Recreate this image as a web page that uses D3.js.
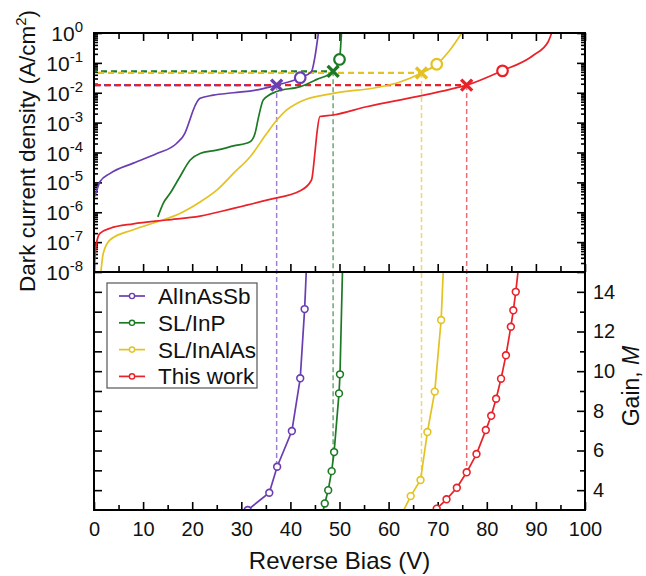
<!DOCTYPE html>
<html>
<head>
<meta charset="utf-8">
<script src="https://cdn.jsdelivr.net/npm/d3@7"></script>
<style>
    body { margin: 0; background: #fff; }
    svg { font-family: Arial, "Liberation Sans", sans-serif; }
</style>
</head>
<body>
<svg id="chart" width="646" height="576"></svg>
<script>
/**
 * Data.
 */
const seriesNames = ['AlInAsSb', 'SL/InP', 'SL/InAlAs', 'This work'];

// Dark current density [reverse bias V, J in A/cm2]
const darkAlInAsSb = [
    [0, 3e-6], [0.5, 5e-6], [1.2, 1.05e-5], [3.3, 2e-5], [8.0, 4.4e-5], [12.8, 9.3e-5],
    [16.8, 2e-4], [18.5, 4.4e-4], [19.5, 1.2e-3], [20.2, 2.6e-3], [21.6, 6.5e-3], [24.3, 8.3e-3],
    [28.4, 1.0e-2], [33.8, 1.3e-2], [37.2, 1.8e-2], [42.0, 3.2e-2], [44.3, 5.1e-2], [45.0, 0.16], [45.7, 1.0]
];
const darkSlInP = [
    [13.0, 7e-7], [14.1, 2e-6], [15.5, 4.3e-6], [17.5, 1.55e-5], [19.6, 5.6e-5], [21.6, 9.3e-5],
    [25.0, 1.2e-4], [28.4, 1.66e-4], [31.8, 2.3e-4], [32.8, 4.4e-4], [33.5, 1.5e-3], [34.5, 5.8e-3],
    [37.2, 1.1e-2], [42.0, 1.6e-2], [45.4, 2.8e-2], [48.7, 5.2e-2], [50.0, 0.13], [50.4, 1.0]
];
const darkSlInAlAs = [
    [1.4, 1e-8], [1.9, 4.3e-8], [3.3, 1.2e-7], [8.0, 2.6e-7], [13.4, 5.1e-7], [17.5, 9.1e-7],
    [21.6, 2.2e-6], [25.0, 5.5e-6], [28.4, 2e-5], [31.8, 7.2e-5], [35.2, 4.4e-4], [37.2, 1.2e-3],
    [39.2, 2.6e-3], [42.0, 5e-3], [48.7, 9.5e-3], [57.6, 1.5e-2], [62.3, 2.3e-2], [66.7, 4.6e-2],
    [69.8, 9e-2], [72.5, 0.27], [74.9, 1.0]
];
const darkThisWork = [
    [0, 1e-8], [0.3, 5e-8], [0.5, 9e-8], [1.2, 1.95e-7], [3.3, 2.9e-7], [8.0, 4.1e-7], [14.8, 5.5e-7],
    [21.6, 7.4e-7], [28.4, 1.35e-6], [35.4, 2.6e-6], [42.0, 5.2e-6], [44.3, 1.2e-5], [45.0, 1e-4],
    [45.4, 4.4e-4], [46.0, 1.6e-3], [48.7, 1.8e-3], [55.5, 3.4e-3], [65.7, 7.4e-3], [72.5, 1.3e-2],
    [75.9, 1.8e-2], [82.7, 5.1e-2], [89.5, 0.18], [92.5, 0.51], [93.2, 1.0]
];

// Gain [reverse bias V, M]
const gainAlInAsSb = [[31.3, 3.0], [35.7, 3.87], [37.3, 5.18], [40.3, 6.98], [42.0, 9.64], [42.9, 13.13], [43.4, 16]];
const gainSlInP = [[46.4, 2.7], [47.0, 3.33], [47.7, 4.0], [48.4, 4.96], [48.9, 5.92], [49.9, 8.88], [50.1, 9.84], [50.7, 16]];
const gainSlInAlAs = [[62.5, 2.7], [64.5, 3.7], [66.5, 4.51], [67.9, 6.93], [69.4, 8.97], [70.7, 12.58], [71.3, 16]];
const gainThisWork = [
    [68.8, 2.8], [69.8, 3.07], [71.8, 3.54], [73.9, 4.12], [75.9, 4.9], [77.9, 5.82], [79.8, 7.03],
    [80.9, 7.75], [81.9, 8.61], [82.9, 9.62], [83.9, 10.8], [84.9, 12.24], [85.4, 13.07], [85.9, 14.0], [86.8, 16]
];

// Marked points: [V, J, M at that V]
const crossPoints = [[37.2, 1.8e-2, 5.18], [48.7, 5.2e-2, 5.5], [66.7, 4.6e-2, 4.51], [75.9, 1.8e-2, 4.9]];
const circlePoints = [[42.0, 3.2e-2], [50.0, 0.13], [69.8, 9e-2], [83.2, 5.4e-2]];

// Ticks
const biasTicks = d3.range(0, 101, 10);
const biasMinorTicks = d3.range(5, 100, 10);
const decadeExponents = d3.range(-8, 1);
const gainTicks = [4, 6, 8, 10, 12, 14];
const gainMinorTicks = [5, 7, 9, 11, 13];

/**
 * Visual configs.
 */
const colors = ['#6a3db3', '#1c7a25', '#e3c221', '#ea2129'];
const plot = { left: 94, right: 585, top: 33, mid: 272, bottom: 510 };

const svg = d3.select('#chart');

/**
 * D3 scales.
 */
const xScale = d3.scaleLinear().domain([0, 100]).range([plot.left, plot.right]),
    yDark = d3.scaleLog().domain([1e-8, 1]).range([plot.mid, plot.top]),
    yGain = d3.scaleLinear().domain([3, 15]).range([plot.bottom, plot.mid]);

const darkData = [darkAlInAsSb, darkSlInP, darkSlInAlAs, darkThisWork];
const gainData = [gainAlInAsSb, gainSlInP, gainSlInAlAs, gainThisWork];

/**
 * Clip regions for the two panels.
 */
const defs = svg.append('defs');
defs.append('clipPath').attr('id', 'clip-top').append('rect')
    .attr('x', plot.left).attr('y', plot.top)
    .attr('width', plot.right - plot.left).attr('height', plot.mid - plot.top);
defs.append('clipPath').attr('id', 'clip-bottom').append('rect')
    .attr('x', plot.left).attr('y', plot.mid)
    .attr('width', plot.right - plot.left).attr('height', plot.bottom - plot.mid);

/**
 * Axis helper: draws ticks without domain line.
 */
function drawAxis(axis, tx, ty) {
    const g = svg.append('g')
        .attr('transform', 'translate(' + tx + ',' + ty + ')')
        .call(axis);
    g.select('.domain').remove();
    g.selectAll('line').attr('stroke', '#000').attr('stroke-width', 1.6);
    g.selectAll('text').attr('font-size', 20).attr('fill', '#111')
        .attr('font-family', 'Arial, "Liberation Sans", sans-serif');
    return g;
}

// Log minor ticks
const logMinor = [];
decadeExponents.slice(0, -1).forEach(e => {
    for (let k = 2; k <= 9; k++) logMinor.push(k * Math.pow(10, e));
});
const decades = decadeExponents.map(e => Math.pow(10, e));

// Top panel: top edge, bottom edge
drawAxis(d3.axisBottom(xScale).tickValues(biasTicks).tickSize(8).tickFormat(''), 0, plot.top);
drawAxis(d3.axisBottom(xScale).tickValues(biasMinorTicks).tickSize(6).tickFormat(''), 0, plot.top);
drawAxis(d3.axisTop(xScale).tickValues(biasTicks).tickSize(8).tickFormat(''), 0, plot.mid);
drawAxis(d3.axisTop(xScale).tickValues(biasMinorTicks).tickSize(6).tickFormat(''), 0, plot.mid);

// Top panel: left & right log ticks
drawAxis(d3.axisRight(yDark).tickValues(decades).tickSize(8).tickFormat(''), plot.left, 0);
drawAxis(d3.axisRight(yDark).tickValues(logMinor).tickSize(4).tickFormat(''), plot.left, 0);
drawAxis(d3.axisLeft(yDark).tickValues(decades).tickSize(8).tickFormat(''), plot.right, 0);
drawAxis(d3.axisLeft(yDark).tickValues(logMinor).tickSize(4).tickFormat(''), plot.right, 0);

// Decade labels with superscripts
const decadeLabels = svg.append('g').attr('font-size', 21).attr('text-anchor', 'end').attr('fill', '#111');
decadeExponents.forEach(e => {
    const t = decadeLabels.append('text')
        .attr('x', 83)
        .attr('y', yDark(Math.pow(10, e)) + 8);
    t.append('tspan').text('10');
    t.append('tspan').attr('font-size', 15).attr('dy', -9).text(e === 0 ? '0' : String(e));
});

// Bottom panel: bias axis with labels
drawAxis(d3.axisBottom(xScale).tickValues(biasTicks).tickSize(-8).tickPadding(12), 0, plot.bottom);
drawAxis(d3.axisBottom(xScale).tickValues(biasMinorTicks).tickSize(-5).tickFormat(''), 0, plot.bottom);

// Bottom panel: left ticks, right gain axis
drawAxis(d3.axisRight(yGain).tickValues(d3.range(4, 15)).tickSize(8).tickFormat(''), plot.left, 0);
drawAxis(d3.axisRight(yGain).tickValues(gainTicks).tickSize(-8).tickPadding(8), plot.right, 0);
drawAxis(d3.axisRight(yGain).tickValues(gainMinorTicks).tickSize(-5).tickFormat(''), plot.right, 0);

/**
 * Dashed guide lines.
 */
const guides = svg.append('g').attr('fill', 'none');
crossPoints.forEach((p, i) => {
    // Horizontal: from left axis to the marked point
    guides.append('line')
        .attr('x1', xScale(0)).attr('x2', xScale(p[0]))
        .attr('y1', yDark(p[1])).attr('y2', yDark(p[1]))
        .attr('stroke', colors[i]).attr('stroke-width', 2.2)
        .attr('stroke-dasharray', '6,4')
        .attr('stroke-dashoffset', i * 3);
    // Vertical: down to the gain curve
    guides.append('line')
        .attr('x1', xScale(p[0])).attr('x2', xScale(p[0]))
        .attr('y1', yDark(p[1])).attr('y2', yGain(p[2]))
        .attr('stroke', colors[i]).attr('stroke-width', 1.5)
        .attr('stroke-opacity', 0.65)
        .attr('stroke-dasharray', '5,3');
});

/**
 * Dark current curves.
 */
const darkLine = d3.line().x(d => xScale(d[0])).y(d => yDark(d[1])).curve(d3.curveMonotoneX);
const darkGroup = svg.append('g').attr('clip-path', 'url(#clip-top)');
darkData.forEach((d, i) => {
    darkGroup.append('path')
        .datum(d)
        .attr('d', darkLine)
        .attr('fill', 'none')
        .attr('stroke', colors[i])
        .attr('stroke-width', 1.7);
});

// Cross markers
const crossGroup = svg.append('g');
crossPoints.forEach((p, i) => {
    const cx = xScale(p[0]), cy = yDark(p[1]), s = 5.5;
    crossGroup.append('path')
        .attr('d', 'M' + (cx - s) + ',' + (cy - s) + 'L' + (cx + s) + ',' + (cy + s) +
            'M' + (cx - s) + ',' + (cy + s) + 'L' + (cx + s) + ',' + (cy - s))
        .attr('stroke', colors[i]).attr('stroke-width', 3.4);
});

// Open circle markers
svg.append('g').selectAll('circle').data(circlePoints).enter().append('circle')
    .attr('cx', d => xScale(d[0]))
    .attr('cy', d => yDark(d[1]))
    .attr('r', 5.3)
    .attr('fill', '#fff')
    .attr('stroke', (d, i) => colors[i])
    .attr('stroke-width', 2.2);

/**
 * Gain curves.
 */
const gainLine = d3.line().x(d => xScale(d[0])).y(d => yGain(d[1]));
const gainGroup = svg.append('g').attr('clip-path', 'url(#clip-bottom)');
gainData.forEach((d, i) => {
    gainGroup.append('path')
        .datum(d)
        .attr('d', gainLine)
        .attr('fill', 'none')
        .attr('stroke', colors[i])
        .attr('stroke-width', 1.7);
    gainGroup.selectAll('circle.g' + i).data(d).enter().append('circle')
        .attr('class', 'g' + i)
        .attr('cx', p => xScale(p[0]))
        .attr('cy', p => yGain(p[1]))
        .attr('r', 3.4)
        .attr('fill', '#fff')
        .attr('stroke', colors[i])
        .attr('stroke-width', 1.6);
});

/**
 * Frames.
 */
svg.append('rect')
    .attr('x', plot.left).attr('y', plot.top)
    .attr('width', plot.right - plot.left).attr('height', plot.mid - plot.top)
    .attr('fill', 'none').attr('stroke', '#000').attr('stroke-width', 2);
svg.append('rect')
    .attr('x', plot.left).attr('y', plot.mid)
    .attr('width', plot.right - plot.left).attr('height', plot.bottom - plot.mid)
    .attr('fill', 'none').attr('stroke', '#000').attr('stroke-width', 2);

/**
 * Legend.
 */
const legend = svg.append('g');
legend.append('rect')
    .attr('x', 107).attr('y', 283).attr('width', 150).attr('height', 105)
    .attr('fill', '#fff').attr('stroke', '#555').attr('stroke-width', 1.2);
seriesNames.forEach((name, i) => {
    const y = 296 + i * 26.8;
    legend.append('line')
        .attr('x1', 119).attr('x2', 145).attr('y1', y).attr('y2', y)
        .attr('stroke', colors[i]).attr('stroke-width', 1.7);
    legend.append('circle')
        .attr('cx', 132).attr('cy', y).attr('r', 2.6)
        .attr('fill', '#fff').attr('stroke', colors[i]).attr('stroke-width', 1.4);
    legend.append('text')
        .attr('x', 158).attr('y', y + 8)
        .attr('font-size', 22.5)
        .attr('textLength', name === 'SL/InAlAs' ? 98 : null)
        .attr('fill', '#111')
        .text(name);
});

/**
 * Axis titles.
 */
const yTitle = svg.append('text')
    .attr('transform', 'translate(35,151) rotate(-90)')
    .attr('text-anchor', 'middle')
    .attr('font-size', 22.5)
    .attr('fill', '#111');
yTitle.append('tspan').text('Dark current density (A/cm');
yTitle.append('tspan').attr('font-size', 15).attr('dy', -9).text('2');
yTitle.append('tspan').attr('dy', 9).text(')');

const gTitle = svg.append('text')
    .attr('transform', 'translate(639,386) rotate(-90)')
    .attr('text-anchor', 'middle')
    .attr('font-size', 23)
    .attr('fill', '#111');
gTitle.append('tspan').text('Gain, ');
gTitle.append('tspan').attr('font-style', 'italic').text('M');

svg.append('text')
    .attr('x', (plot.left + plot.right) / 2).attr('y', 569)
    .attr('text-anchor', 'middle')
    .attr('font-size', 24)
    .attr('fill', '#111')
    .text('Reverse Bias (V)');
</script>
</body>
</html>
